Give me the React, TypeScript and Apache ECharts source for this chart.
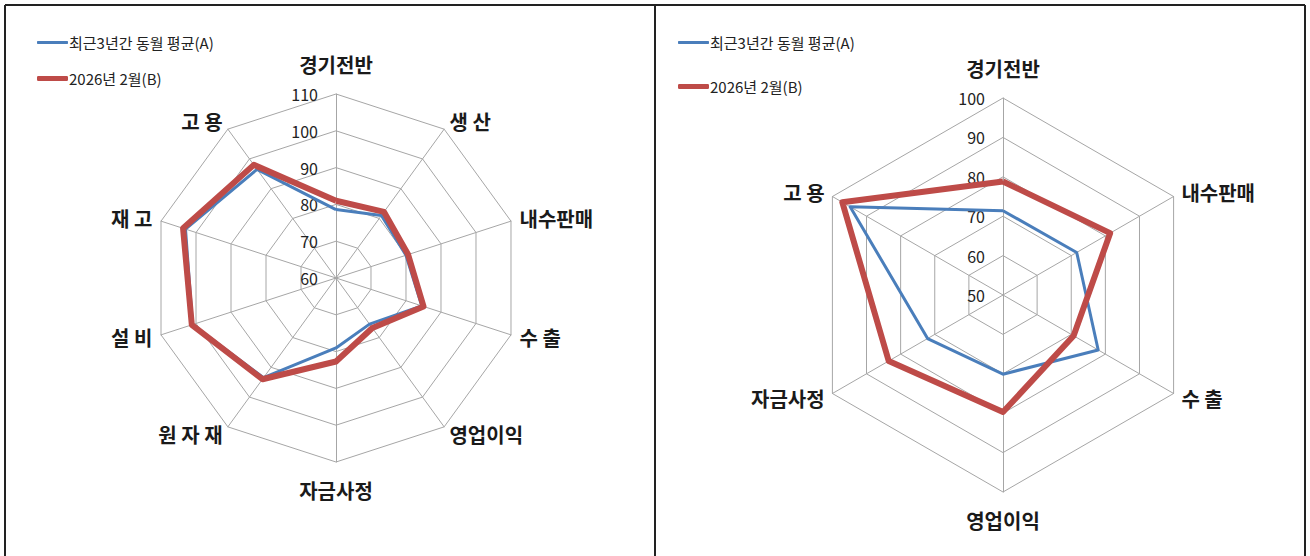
import React, { useEffect, useRef } from "react";
import * as echarts from "echarts";

const SERIES_A = "최근3년간 동월 평균(A)";
const SERIES_B = "2026년 2월(B)";

// Left chart (clockwise from top)
const LEFT_CATEGORIES = ["경기전반", "생 산", "내수판매", "수 출", "영업이익", "자금사정", "원 자 재", "설 비", "재 고", "고 용"];
const LEFT_A = [78.6, 81.0, 80.0, 84.5, 75.5, 79.0, 93.5, 101.0, 103.0, 96.5];
const LEFT_B = [81.0, 82.2, 80.6, 85.0, 76.8, 82.7, 94.0, 101.2, 103.7, 98.0];
const LEFT_MIN = 60;
const LEFT_MAX = 110;

// Right chart (clockwise from top)
const RIGHT_CATEGORIES = ["경기전반", "내수판매", "수 출", "영업이익", "자금사정", "고 용"];
const RIGHT_A = [71.4, 71.6, 77.9, 70.1, 72.1, 94.8];
const RIGHT_B = [78.8, 81.4, 70.7, 79.7, 83.5, 97.1];
const RIGHT_MIN = 50;
const RIGHT_MAX = 100;

const BLUE = "#4A7EBB";
const RED = "#BE4B48";
const GRID = "#A6A6A6";
const FONT = '"Noto Sans CJK KR", "Noto Sans", sans-serif';

// ECharts lays radar indicators counter-clockwise; reorder to keep clockwise reading
const cw = <T,>(arr: T[]): T[] => [arr[0], ...arr.slice(1).reverse()];

function makeRadar(cats: string[], min: number, max: number, center: number[], radius: number) {
  const n = cats.length;
  return {
    center,
    radius,
    startAngle: 90,
    shape: "polygon",
    splitNumber: 5,
    indicator: cw(cats).map((name, i) => ({
      name,
      min,
      max,
      nameGap: i === 0 ? 20 : i === n / 2 ? 18 : 9,
      axisLabel: i === 0 ? { show: true } : { show: false },
    })),
    axisName: {
      color: "#1a1a1a",
      fontSize: 20,
      fontWeight: "bold",
      fontFamily: FONT,
    },
    nameGap: 9,
    axisLine: { lineStyle: { color: GRID, width: 1 } },
    splitLine: { lineStyle: { color: GRID, width: 1 } },
    splitArea: { show: false },
    axisTick: { show: false },
    axisLabel: {
      show: false,
      color: "#222",
      fontSize: 16,
      fontFamily: FONT,
      margin: 18,
    },
  };
}

function legendItem(name: string, color: string, h: number, left: number, top: number) {
  return {
    left,
    top,
    padding: 0,
    selectedMode: false,
    itemWidth: 31,
    itemHeight: h,
    data: [{ name, icon: "roundRect", itemStyle: { color } }],
    textStyle: { fontSize: 15, color: "#222", fontFamily: FONT, padding: [0, 0, 0, -4] },
  };
}

export default function App() {
  const ref = useRef<HTMLDivElement>(null);
  useEffect(() => {
    document.body.style.margin = "0";
    if (!ref.current) return;
    const chart = echarts.init(ref.current, null, { renderer: "svg" });
    const dataItems = (a: number[], b: number[]) => [
      {
        name: SERIES_A,
        value: cw(a),
        symbol: "none",
        lineStyle: { color: BLUE, width: 3 },
        itemStyle: { color: BLUE },
      },
      {
        name: SERIES_B,
        value: cw(b),
        symbol: "none",
        lineStyle: { color: RED, width: 6 },
        itemStyle: { color: RED },
      },
    ];
    chart.setOption({
      animation: false,
      backgroundColor: "#fff",
      legend: [
        legendItem(SERIES_A, BLUE, 3, 37, 35),
        legendItem(SERIES_B, RED, 5, 37, 71),
        legendItem(SERIES_A, BLUE, 3, 678, 35),
        legendItem(SERIES_B, RED, 5, 678, 79),
      ],
      radar: [
        makeRadar(LEFT_CATEGORIES, LEFT_MIN, LEFT_MAX, [336, 278], 184),
        makeRadar(RIGHT_CATEGORIES, RIGHT_MIN, RIGHT_MAX, [1003, 295], 197),
      ],
      series: [
        { type: "radar", radarIndex: 0, data: dataItems(LEFT_A, LEFT_B) },
        { type: "radar", radarIndex: 1, data: dataItems(RIGHT_A, RIGHT_B) },
      ],
      graphic: [
        { type: "line", shape: { x1: 5, y1: 5, x2: 1305, y2: 5 }, style: { stroke: "#222", lineWidth: 2 } },
        { type: "line", shape: { x1: 5, y1: 5, x2: 5, y2: 556 }, style: { stroke: "#222", lineWidth: 2 } },
        { type: "line", shape: { x1: 655, y1: 5, x2: 655, y2: 556 }, style: { stroke: "#222", lineWidth: 2 } },
        { type: "line", shape: { x1: 1305, y1: 5, x2: 1305, y2: 556 }, style: { stroke: "#222", lineWidth: 2 } },
      ],
    });
    return () => chart.dispose();
  }, []);
  return <div ref={ref} style={{ width: 1310, height: 556 }} />;
}
